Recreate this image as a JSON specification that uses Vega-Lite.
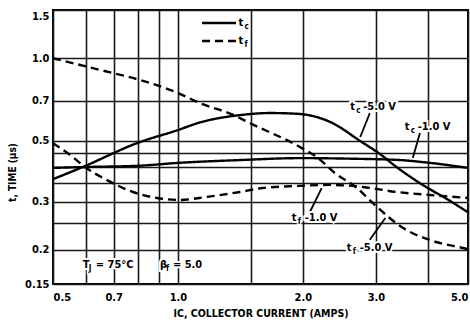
{
  "$schema": "https://vega.github.io/schema/vega-lite/v6.json",
  "width": 415,
  "height": 274,
  "autosize": {"type": "none"},
  "padding": {"left": 53, "top": 10, "right": 2, "bottom": 45},
  "background": "white",
  "config": {
    "view": {"stroke": "black", "strokeWidth": 2},
    "font": "DejaVu Sans Condensed",
    "text": {"font": "DejaVu Sans Condensed", "fontWeight": "bold", "color": "black"}
  },
  "datasets": {
    "curves": [
      {"series": "tc5", "kind": "tc", "I": 0.5, "t": 0.362},
      {"series": "tc5", "kind": "tc", "I": 0.59, "t": 0.401},
      {"series": "tc5", "kind": "tc", "I": 0.797, "t": 0.49},
      {"series": "tc5", "kind": "tc", "I": 1.0, "t": 0.547},
      {"series": "tc5", "kind": "tc", "I": 1.13, "t": 0.583},
      {"series": "tc5", "kind": "tc", "I": 1.41, "t": 0.62},
      {"series": "tc5", "kind": "tc", "I": 1.67, "t": 0.631},
      {"series": "tc5", "kind": "tc", "I": 1.94, "t": 0.627},
      {"series": "tc5", "kind": "tc", "I": 2.33, "t": 0.585},
      {"series": "tc5", "kind": "tc", "I": 2.77, "t": 0.495},
      {"series": "tc5", "kind": "tc", "I": 3.05, "t": 0.45},
      {"series": "tc5", "kind": "tc", "I": 3.37, "t": 0.4},
      {"series": "tc5", "kind": "tc", "I": 3.83, "t": 0.35},
      {"series": "tc5", "kind": "tc", "I": 4.55, "t": 0.3},
      {"series": "tc5", "kind": "tc", "I": 5.0, "t": 0.274},
      {"series": "tc1", "kind": "tc", "I": 0.5, "t": 0.398},
      {"series": "tc1", "kind": "tc", "I": 0.6, "t": 0.401},
      {"series": "tc1", "kind": "tc", "I": 0.8, "t": 0.405},
      {"series": "tc1", "kind": "tc", "I": 1.0, "t": 0.415},
      {"series": "tc1", "kind": "tc", "I": 1.41, "t": 0.425},
      {"series": "tc1", "kind": "tc", "I": 1.97, "t": 0.432},
      {"series": "tc1", "kind": "tc", "I": 2.6, "t": 0.43},
      {"series": "tc1", "kind": "tc", "I": 3.43, "t": 0.425},
      {"series": "tc1", "kind": "tc", "I": 4.05, "t": 0.415},
      {"series": "tc1", "kind": "tc", "I": 5.0, "t": 0.398},
      {"series": "tf1", "kind": "tf", "I": 0.5, "t": 0.49},
      {"series": "tf1", "kind": "tf", "I": 0.558, "t": 0.436},
      {"series": "tf1", "kind": "tf", "I": 0.597, "t": 0.401},
      {"series": "tf1", "kind": "tf", "I": 0.675, "t": 0.359},
      {"series": "tf1", "kind": "tf", "I": 0.779, "t": 0.325},
      {"series": "tf1", "kind": "tf", "I": 0.89, "t": 0.309},
      {"series": "tf1", "kind": "tf", "I": 1.01, "t": 0.304},
      {"series": "tf1", "kind": "tf", "I": 1.175, "t": 0.312},
      {"series": "tf1", "kind": "tf", "I": 1.41, "t": 0.325},
      {"series": "tf1", "kind": "tf", "I": 1.6, "t": 0.336},
      {"series": "tf1", "kind": "tf", "I": 1.94, "t": 0.342},
      {"series": "tf1", "kind": "tf", "I": 2.33, "t": 0.345},
      {"series": "tf1", "kind": "tf", "I": 2.79, "t": 0.339},
      {"series": "tf1", "kind": "tf", "I": 3.37, "t": 0.325},
      {"series": "tf1", "kind": "tf", "I": 4.05, "t": 0.317},
      {"series": "tf1", "kind": "tf", "I": 5.0, "t": 0.309},
      {"series": "tf5", "kind": "tf", "I": 0.5, "t": 1.0},
      {"series": "tf5", "kind": "tf", "I": 0.65, "t": 0.906},
      {"series": "tf5", "kind": "tf", "I": 0.81, "t": 0.833},
      {"series": "tf5", "kind": "tf", "I": 1.0, "t": 0.747},
      {"series": "tf5", "kind": "tf", "I": 1.13, "t": 0.686},
      {"series": "tf5", "kind": "tf", "I": 1.36, "t": 0.621},
      {"series": "tf5", "kind": "tf", "I": 1.49, "t": 0.58},
      {"series": "tf5", "kind": "tf", "I": 1.97, "t": 0.474},
      {"series": "tf5", "kind": "tf", "I": 2.16, "t": 0.436},
      {"series": "tf5", "kind": "tf", "I": 2.39, "t": 0.381},
      {"series": "tf5", "kind": "tf", "I": 2.7, "t": 0.336},
      {"series": "tf5", "kind": "tf", "I": 2.95, "t": 0.296},
      {"series": "tf5", "kind": "tf", "I": 3.49, "t": 0.24},
      {"series": "tf5", "kind": "tf", "I": 4.05, "t": 0.217},
      {"series": "tf5", "kind": "tf", "I": 4.86, "t": 0.203},
      {"series": "tf5", "kind": "tf", "I": 5.0, "t": 0.201}
    ],
    "legend": [
      {"kind": "tc", "I": 1.143, "I2": 1.38, "t": 1.345},
      {"kind": "tf", "I": 1.143, "I2": 1.38, "t": 1.156}
    ],
    "pointers": [
      {"I": 2.9, "t": 0.631, "I2": 2.75, "t2": 0.516},
      {"I": 3.83, "t": 0.534, "I2": 3.68, "t2": 0.4325},
      {"I": 2.08, "t": 0.2747, "I2": 2.22, "t2": 0.336},
      {"I": 2.9, "t": 0.2174, "I2": 3.16, "t2": 0.2613}
    ],
    "labels": [
      {"main": "t", "sub": "c", "rest": "-5.0 V", "I": 2.6, "t": 0.664},
      {"main": "t", "sub": "c", "rest": "-1.0 V", "I": 3.52, "t": 0.561},
      {"main": "t", "sub": "f", "rest": "-1.0 V", "I": 1.88, "t": 0.2613},
      {"main": "t", "sub": "f", "rest": "-5.0 V", "I": 2.55, "t": 0.203},
      {"main": "t", "sub": "c", "rest": "", "I": 1.4, "t": 1.345},
      {"main": "t", "sub": "f", "rest": "", "I": 1.4, "t": 1.156},
      {"main": "T", "sub": "J", "rest": "= 75°C", "I": 0.59, "t": 0.176},
      {"main": "β", "sub": "f", "rest": "= 5.0", "I": 0.905, "t": 0.176}
    ]
  },
  "encoding": {
    "x": {
      "field": "I", "type": "quantitative",
      "scale": {"type": "log", "domain": [0.5, 5], "nice": false},
      "axis": {
        "values": [0.5, 0.6, 0.7, 0.8, 0.9, 1, 1.5, 2, 3, 4, 5],
        "grid": true, "gridColor": "#1a1a1a", "gridWidth": 1.6, "gridOpacity": 1,
        "ticks": false, "domain": false,
        "labelExpr": "indexof([0.5,0.7,1,2,3,5], datum.value) >= 0 ? format(datum.value, '.1f') : ''",
        "labelFont": "DejaVu Sans Condensed", "labelFontSize": 11, "labelFontWeight": "bold",
        "labelColor": "black", "labelPadding": 7, "labelFlush": true, "labelOverlap": false,
        "title": "IC, COLLECTOR CURRENT (AMPS)",
        "titleFont": "DejaVu Sans Condensed", "titleFontSize": 10.5, "titleFontWeight": "bold",
        "titleColor": "black", "titlePadding": 6
      }
    },
    "y": {
      "field": "t", "type": "quantitative",
      "scale": {"type": "log", "domain": [0.15, 1.5], "nice": false},
      "axis": {
        "values": [0.15, 0.2, 0.25, 0.3, 0.35, 0.4, 0.45, 0.5, 0.7, 1, 1.5],
        "grid": true, "gridColor": "#1a1a1a", "gridWidth": 1.6, "gridOpacity": 1,
        "ticks": false, "domain": false,
        "labelExpr": "indexof([0.15,0.2,0.3,0.5,0.7,1,1.5], datum.value) >= 0 ? (datum.value == 0.15 ? '0.15' : format(datum.value, '.1f')) : ''",
        "labelFont": "DejaVu Sans Condensed", "labelFontSize": 11, "labelFontWeight": "bold",
        "labelColor": "black", "labelPadding": 4, "labelOverlap": false,
        "labelBaseline": {"condition": {"test": "datum.value == 1.5", "value": "top"}, "value": "middle"},
        "title": "t, TIME (µs)",
        "titleFont": "DejaVu Sans Condensed", "titleFontSize": 10, "titleFontWeight": "bold",
        "titleColor": "black", "titleX": -41, "titleY": 162, "titleAngle": 270,
        "titleAlign": "center", "titleBaseline": "middle"
      }
    }
  },
  "layer": [
    {
      "data": {"name": "curves"},
      "mark": {"type": "line", "color": "black", "strokeWidth": 2.4, "interpolate": "monotone"},
      "encoding": {
        "detail": {"field": "series"},
        "strokeDash": {"field": "kind", "type": "nominal", "scale": {"domain": ["tc", "tf"], "range": [[1, 0], [8, 5]]}, "legend": null}
      }
    },
    {
      "data": {"name": "legend"},
      "mark": {"type": "rule", "color": "black", "strokeWidth": 2.4},
      "encoding": {
        "x2": {"field": "I2"},
        "strokeDash": {"field": "kind", "type": "nominal", "legend": null}
      }
    },
    {
      "data": {"name": "pointers"},
      "mark": {"type": "rule", "color": "black", "strokeWidth": 1.8},
      "encoding": {"x2": {"field": "I2"}, "y2": {"field": "t2"}}
    },
    {
      "data": {"name": "labels"},
      "mark": {"type": "text", "align": "left", "baseline": "middle", "fontSize": 11, "stroke": "white", "strokeWidth": 4, "dx": 0},
      "encoding": {"text": {"field": "main"}}
    },
    {
      "data": {"name": "labels"},
      "mark": {"type": "text", "align": "left", "baseline": "middle", "fontSize": 11, "stroke": "white", "strokeWidth": 4, "dx": 13},
      "encoding": {"text": {"field": "rest"}}
    },
    {
      "data": {"name": "labels"},
      "mark": {"type": "text", "align": "left", "baseline": "middle", "fontSize": 8, "stroke": "white", "strokeWidth": 3, "dx": 6, "dy": 4},
      "encoding": {"text": {"field": "sub"}}
    },
    {
      "data": {"name": "labels"},
      "mark": {"type": "text", "align": "left", "baseline": "middle", "fontSize": 11, "dx": 0},
      "encoding": {"text": {"field": "main"}}
    },
    {
      "data": {"name": "labels"},
      "mark": {"type": "text", "align": "left", "baseline": "middle", "fontSize": 11, "dx": 13},
      "encoding": {"text": {"field": "rest"}}
    },
    {
      "data": {"name": "labels"},
      "mark": {"type": "text", "align": "left", "baseline": "middle", "fontSize": 8, "dx": 6, "dy": 4},
      "encoding": {"text": {"field": "sub"}}
    }
  ]
}
